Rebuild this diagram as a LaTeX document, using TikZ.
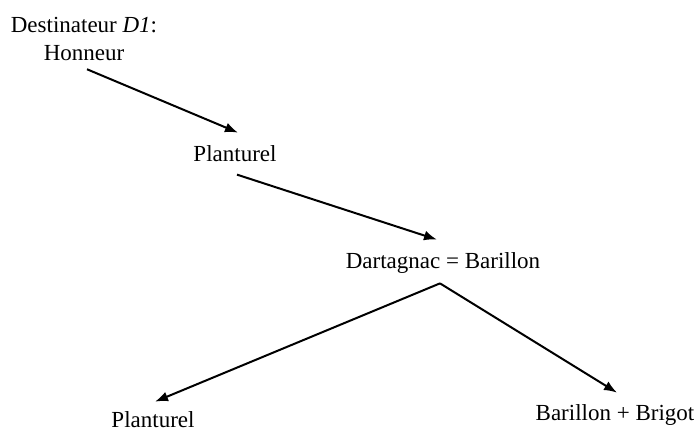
\documentclass[tikz,border=0pt]{standalone}
\usepackage{fontspec}
\setmainfont{Liberation Serif}
\usetikzlibrary{arrows.meta}
\tikzset{
	lbl/.style={inner sep=0pt, font=\fontsize{11.5}{14}\selectfont},
	arr/.style={-{Latex[length=6.5pt,width=5pt]}, line width=1pt}
}
\begin{document}
\begin{tikzpicture}[x=0.5pt,y=-0.5pt]
		\useasboundingbox (0,0) rectangle (698,430);
		\node (dest)[lbl, anchor=north, align=center] at (84,17){Destinateur \textit{D1}:\\Honneur};
		\node (plant)[lbl, anchor=base] at (235,161){Planturel};
		\node (dart)[lbl, anchor=base] at (443,268){Dartagnac = Barillon};
		%
		\node (plantb)[lbl, anchor=base] at (153,427){Planturel};
		\node (bari)[lbl, anchor=base] at (615,420){Barillon + Brigot};
		%
		\draw[arr] ([shift={(3,8)}]dest.south) -- ([shift={(3,-12)}]plant.north);
		\draw[arr] ([shift={(2,13)}]plant.south) -- ([shift={(-6,-12)}]dart.north);
		\draw[arr] ([shift={(-3,10)}]dart.south) -- ([shift={(2,-9)}]plantb.north);
		\draw[arr] ([shift={(-3,10)}]dart.south) -- ([shift={(2,-11)}]bari.north);
	\end{tikzpicture}
\end{document}
